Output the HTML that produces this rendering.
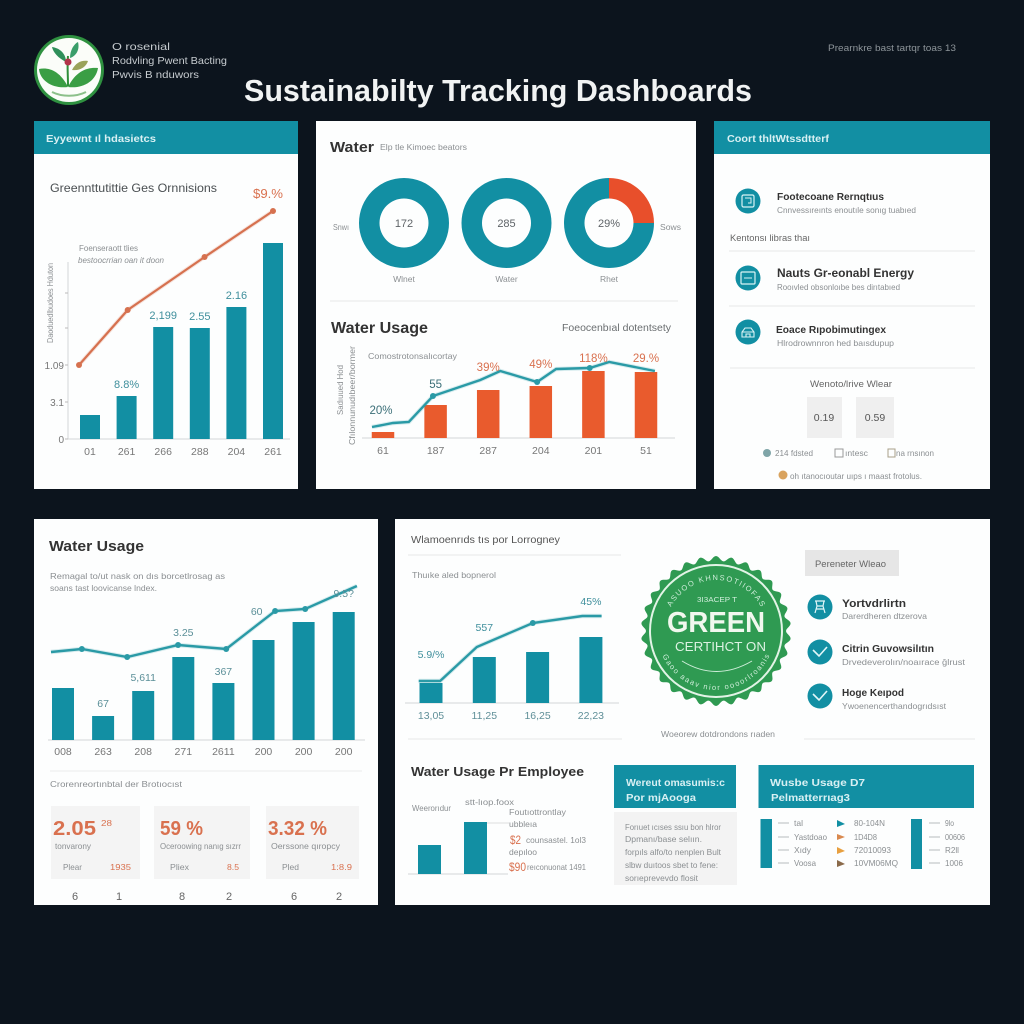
<!DOCTYPE html>
<html lang="en">
<head>
<meta charset="utf-8">
<title>Sustainability Tracking Dashboards</title>
<style>
html,body{margin:0;padding:0;background:#0c141d;width:1024px;height:1024px;overflow:hidden}
svg{display:block;font-family:"Liberation Sans",sans-serif}
.s{font-size:8.5px;fill:#8b8f92}
.d{font-size:9px;fill:#666}
.h{font-size:10.5px;font-weight:bold;fill:#d8f0f3}
.b{font-weight:bold;fill:#333}
.o{fill:#d9714f}
.g{fill:#c6cbcf;font-size:10.5px}
</style>
</head>
<body>
<svg id="dash" width="1024" height="1024" viewBox="0 0 1024 1024" xmlns="http://www.w3.org/2000/svg">
<rect width="1024" height="1024" fill="#0c141d"/>

<!-- Header -->
<g>
<circle cx="69" cy="70" r="35" fill="#2f9140"/>
<circle cx="69" cy="70" r="32" fill="#fbfdf9"/>
<path d="M68 87C60 71 49 67 39 69C40 81 53 89 68 87Z" fill="#3a9e44"/>
<path d="M68 87C76 71 87 67 98 68C96 81 83 89 68 87Z" fill="#3a9e44"/>
<path d="M68 86C68 74 67 66 68 56" stroke="#2f8f3a" stroke-width="2" fill="none"/>
<path d="M66 62C58 58 53 52 52 47C60 48 66 54 66 62Z" fill="#2f8f5a"/>
<path d="M70 58C70 50 74 44 78 42C80 50 76 56 70 58Z" fill="#3a9e6a"/>
<path d="M72 70C76 62 82 60 88 61C86 67 80 71 72 70Z" fill="#9aa35a"/>
<circle cx="68" cy="62" r="3.5" fill="#b2344a"/>
<path d="M52 92C62 97 76 97 86 92" stroke="#8cc08a" stroke-width="2" fill="none"/>
</g>
<text class="g" x="112" y="50" textLength="58" lengthAdjust="spacingAndGlyphs">O rosenial</text>
<text class="g" x="112" y="64" textLength="115" lengthAdjust="spacingAndGlyphs">Rodvling Pwent Bacting</text>
<text class="g" x="112" y="78" textLength="87" lengthAdjust="spacingAndGlyphs">Pwvis B nduwors</text>
<text x="244" y="101" font-size="31" font-weight="bold" fill="#f1f3f3" textLength="508" lengthAdjust="spacingAndGlyphs">Sustainabilty Tracking Dashboards</text>
<text x="828" y="51" font-size="9.5" fill="#8d9499" textLength="128" lengthAdjust="spacingAndGlyphs">Prearnkre bast tartqr toas 13</text>

<!-- Panel 1 -->
<g>
<rect x="34" y="121" width="264" height="368" fill="#fdfefe"/>
<rect x="34" y="121" width="264" height="33" fill="#128fa3"/>
<text class="h" x="46" y="142" textLength="110" lengthAdjust="spacingAndGlyphs">Eyyewnt ıl hdasietcs</text>
<text x="50" y="192" font-size="12" fill="#4a4f52" textLength="167" lengthAdjust="spacingAndGlyphs">Greennttutittie Ges Ornnisions</text>
<text x="253" y="198" font-size="12.5" class="o" textLength="30" lengthAdjust="spacingAndGlyphs">$9.%</text>
<text class="s" x="79" y="251" textLength="59" lengthAdjust="spacingAndGlyphs">Foenseraott tlies</text>
<text class="s" font-style="italic" x="78" y="263" textLength="86" lengthAdjust="spacingAndGlyphs">bestoocrrian oan it doon</text>
<text class="s" transform="translate(53,343) rotate(-90)" textLength="80" lengthAdjust="spacingAndGlyphs">Daoduedlbudoes Hduton</text>
<g id="chart1"></g>
</g>

<!-- Panel 2 -->
<g>
<rect x="316" y="121" width="380" height="368" fill="#fdfefe"/>
<text class="b" x="330" y="152" font-size="15" textLength="44" lengthAdjust="spacingAndGlyphs">Water</text>
<text class="s" x="380" y="150" fill="#666" textLength="87" lengthAdjust="spacingAndGlyphs">Elp tle Kimoec beators</text>
<g id="donuts"></g>
<text class="s" x="333" y="230" textLength="16" lengthAdjust="spacingAndGlyphs">Snwı</text>
<text class="s" x="660" y="230" textLength="21" lengthAdjust="spacingAndGlyphs">Sows</text>
<line x1="330" y1="301" x2="678" y2="301" stroke="#e8e8e8"/>
<text class="b" x="331" y="333" font-size="15.5" textLength="97" lengthAdjust="spacingAndGlyphs">Water Usage</text>
<text x="562" y="331" font-size="10.5" fill="#6a6e70" textLength="109" lengthAdjust="spacingAndGlyphs">Foeocenbıal dotentsety</text>
<text class="s" x="368" y="359" textLength="89" lengthAdjust="spacingAndGlyphs">Comostrotonsalıcortay</text>
<text class="s" transform="translate(343,415) rotate(-90)" textLength="50" lengthAdjust="spacingAndGlyphs">Sadıuued Hod</text>
<text class="s" transform="translate(355,445) rotate(-90)" textLength="99" lengthAdjust="spacingAndGlyphs">Cfılonnunudıbeer/bormer</text>
<g id="chart2"></g>
</g>

<!-- Panel 3 -->
<g>
<rect x="714" y="121" width="276" height="368" fill="#fdfefe"/>
<rect x="714" y="121" width="276" height="33" fill="#128fa3"/>
<text class="h" x="727" y="142" font-weight="normal" textLength="102" lengthAdjust="spacingAndGlyphs">Coort thltWtssdtterf</text>

<g><circle cx="748" cy="201" r="12.5" fill="#128fa3"/><rect x="742" y="195" width="12" height="12" rx="1.5" fill="none" stroke="#d8f3f5" stroke-width="1.2"/><path d="M745 198h6v5h-3" fill="none" stroke="#d8f3f5"/></g>
<text class="b" x="777" y="200" font-size="10" fill="#444" textLength="107" lengthAdjust="spacingAndGlyphs">Footecoane Rernqtıus</text>
<text class="s" x="777" y="213" fill="#a0a4a6" textLength="139" lengthAdjust="spacingAndGlyphs">Cnnvessıreınts enoutıle sonıg tuabıed</text>
<text class="d" x="730" y="241" fill="#777" textLength="80" lengthAdjust="spacingAndGlyphs">Kentonsı libras thaı</text>
<line x1="729" y1="251" x2="975" y2="251" stroke="#e8e8e8"/>

<g><circle cx="748" cy="278" r="12.5" fill="#128fa3"/><rect x="741" y="272" width="14" height="12" rx="1" fill="none" stroke="#d8f3f5" stroke-width="1.2"/><path d="M744 278h8" stroke="#d8f3f5"/></g>
<text class="b" x="777" y="277" font-size="11.5" fill="#444" textLength="137" lengthAdjust="spacingAndGlyphs">Nauts Gr-eonabl Energy</text>
<text class="s" x="777" y="290" fill="#a0a4a6" textLength="123" lengthAdjust="spacingAndGlyphs">Rooıvled obsonloıbe bes dirıtabıed</text>
<line x1="729" y1="306" x2="975" y2="306" stroke="#e8e8e8"/>

<g><circle cx="748" cy="332" r="12.5" fill="#128fa3"/><path d="M742 337v-5l3-4h6l3 4v5zM742 332h12M746 337v-3h4v3" fill="none" stroke="#d8f3f5" stroke-width="1.1"/></g>
<text class="b" x="776" y="333" font-size="10.5" fill="#444" textLength="110" lengthAdjust="spacingAndGlyphs">Eoace Rıpobimutingex</text>
<text class="s" x="777" y="346" fill="#a0a4a6" textLength="117" lengthAdjust="spacingAndGlyphs">Hlrodrownnron hed baısdupup</text>
<line x1="730" y1="368" x2="975" y2="368" stroke="#e8e8e8"/>

<text x="810" y="387" font-size="9.5" fill="#666" textLength="82" lengthAdjust="spacingAndGlyphs">Wenoto/lrive Wlear</text>
<rect x="807" y="397" width="35" height="41" fill="#efefef"/>
<rect x="856" y="397" width="38" height="41" fill="#efefef"/>
<text x="824" y="421" font-size="10.5" fill="#555" text-anchor="middle">0.19</text>
<text x="875" y="421" font-size="10.5" fill="#555" text-anchor="middle">0.59</text>
<circle cx="767" cy="453" r="4" fill="#7fa5a8"/>
<text class="s" x="775" y="456" fill="#777" textLength="38" lengthAdjust="spacingAndGlyphs">214 fdsted</text>
<rect x="835" y="449" width="8" height="8" fill="none" stroke="#999"/>
<text class="s" x="845" y="456" fill="#777" textLength="23" lengthAdjust="spacingAndGlyphs">ıntesc</text>
<rect x="888" y="449" width="7" height="8" fill="none" stroke="#a9a089"/>
<text class="s" x="896" y="456" fill="#777" textLength="38" lengthAdjust="spacingAndGlyphs">na rnsınon</text>
<circle cx="783" cy="475" r="4.5" fill="#d9a35f"/>
<text class="s" x="790" y="479" fill="#888" textLength="132" lengthAdjust="spacingAndGlyphs">oh ıtanocıoutar uıps ı maast frotolus.</text>
</g>

<!-- Panel 4 -->
<g>
<rect x="34" y="519" width="344" height="386" fill="#fdfefe"/>
<text class="b" x="49" y="551" font-size="15" textLength="95" lengthAdjust="spacingAndGlyphs">Water Usage</text>
<text class="s" x="50" y="579" textLength="175" lengthAdjust="spacingAndGlyphs">Remagal to/ut nask on dıs borcetlrosag as</text>
<text class="s" x="50" y="591" textLength="107" lengthAdjust="spacingAndGlyphs">soans tast loovicanse lndex.</text>
<g id="chart3"></g>
<line x1="50" y1="771" x2="362" y2="771" stroke="#ececec"/>
<text class="s" x="50" y="787" fill="#666" textLength="132" lengthAdjust="spacingAndGlyphs">Crorenreortınbtal der Brotıocıst</text>

<rect x="51" y="806" width="89" height="73" fill="#f4f4f4"/>
<rect x="154" y="806" width="96" height="73" fill="#f4f4f4"/>
<rect x="266" y="806" width="93" height="73" fill="#f4f4f4"/>
<text class="o" x="53" y="835" font-size="20" font-weight="bold" textLength="43" lengthAdjust="spacingAndGlyphs">2.05</text>
<text class="o" x="101" y="826" font-size="8" textLength="11" lengthAdjust="spacingAndGlyphs">28</text>
<text class="o" x="160" y="835" font-size="20" font-weight="bold" textLength="43" lengthAdjust="spacingAndGlyphs">59 %</text>
<text class="o" x="268" y="835" font-size="20" font-weight="bold" textLength="59" lengthAdjust="spacingAndGlyphs">3.32 %</text>
<text class="s" x="55" y="849" fill="#777" textLength="36" lengthAdjust="spacingAndGlyphs">tonvarony</text>
<text class="s" x="160" y="849" fill="#777" textLength="81" lengthAdjust="spacingAndGlyphs">Oceroowing nanıg sızrr</text>
<text class="s" x="271" y="849" fill="#777" textLength="69" lengthAdjust="spacingAndGlyphs">Oerssone qıropcy</text>
<text class="s" x="63" y="870" fill="#777" textLength="19" lengthAdjust="spacingAndGlyphs">Plear</text>
<text class="s o" x="110" y="870" textLength="21" lengthAdjust="spacingAndGlyphs">1935</text>
<text class="s" x="170" y="870" fill="#777" textLength="19" lengthAdjust="spacingAndGlyphs">Pliex</text>
<text class="s o" x="227" y="870" textLength="12" lengthAdjust="spacingAndGlyphs">8.5</text>
<text class="s" x="282" y="870" fill="#777" textLength="17" lengthAdjust="spacingAndGlyphs">Pled</text>
<text class="s o" x="331" y="870" textLength="21" lengthAdjust="spacingAndGlyphs">1:8.9</text>
<text x="75" y="900" font-size="11" fill="#666" text-anchor="middle">6</text>
<text x="119" y="900" font-size="11" fill="#666" text-anchor="middle">1</text>
<text x="182" y="900" font-size="11" fill="#666" text-anchor="middle">8</text>
<text x="229" y="900" font-size="11" fill="#666" text-anchor="middle">2</text>
<text x="294" y="900" font-size="11" fill="#666" text-anchor="middle">6</text>
<text x="339" y="900" font-size="11" fill="#666" text-anchor="middle">2</text>
</g>

<!-- Panel 5 -->
<g>
<rect x="395" y="519" width="595" height="386" fill="#fdfefe"/>
<text x="411" y="543" font-size="10.5" fill="#555" textLength="149" lengthAdjust="spacingAndGlyphs">Wlamoenrıds tıs por Lorrogney</text>
<line x1="408" y1="555" x2="621" y2="555" stroke="#e8e8e8"/>
<text class="s" x="412" y="578" fill="#777" textLength="84" lengthAdjust="spacingAndGlyphs">Thuıke aled bopnerol</text>
<g id="chart4"></g>
<line x1="408" y1="739" x2="622" y2="739" stroke="#e8e8e8"/>

<g>
<path id="badge-shape" fill="#2f9a52"/>
<circle cx="716" cy="631" r="66" fill="none" stroke="#e2f4e6" stroke-width="2"/>
<path id="badge-top-arc" d="M665 631A51 51 0 0 1 767 631" fill="none"/>
<path id="badge-bottom-arc" d="M657 631A59 59 0 0 0 775 631" fill="none"/>
<text font-size="7.5" fill="#cfeeda"><textPath href="#badge-top-arc" startOffset="15.6%" textLength="110" lengthAdjust="spacing">ASUOO KHNSOTIIOFAS</textPath></text>
<text font-size="7.5" fill="#cfeeda"><textPath href="#badge-bottom-arc" startOffset="13.8%" textLength="134" lengthAdjust="spacing">Gaoo aaav nior oooorlroanis</textPath></text>
<text x="697" y="602" font-size="7" fill="#cfeeda" textLength="40" lengthAdjust="spacingAndGlyphs">3I3ACEP T</text>
<text x="667" y="632" font-size="29" font-weight="bold" fill="#f1f8ee" textLength="98" lengthAdjust="spacingAndGlyphs">GREEN</text>
<text x="675" y="651" font-size="13" fill="#dcf2e2" textLength="91" lengthAdjust="spacingAndGlyphs">CERTIHCT ON</text>
<path d="M682 661Q716 682 752 661" fill="none" stroke="#cfeeda"/>
</g>
<text class="s" x="661" y="737" fill="#666" textLength="114" lengthAdjust="spacingAndGlyphs">Woeorew dotdrondons rıaden</text>

<g><rect x="805" y="550" width="94" height="26" fill="#e6e6e6"/><text x="815" y="567" font-size="9" fill="#666" textLength="71" lengthAdjust="spacingAndGlyphs">Pereneter Wleao</text></g>
<g><circle cx="820" cy="607" r="12.5" fill="#128fa3"/><path d="M815 601h10M816 601l1 5h6l1-5M815 613l2-7M825 613l-2-7M816 609h8" fill="none" stroke="#e2f6f8" stroke-width="1.2"/></g>
<text class="b" x="842" y="607" font-size="11" fill="#444" textLength="64" lengthAdjust="spacingAndGlyphs">Yortvdrlirtn</text>
<text class="s" x="842" y="619" fill="#a0a4a6" textLength="85" lengthAdjust="spacingAndGlyphs">Darerdheren dtzerova</text>
<g><circle cx="820" cy="652" r="12.5" fill="#128fa3"/><path d="M813 650l6 6 8-9" fill="none" stroke="#e2f6f8" stroke-width="1.6"/></g>
<text class="b" x="842" y="652" font-size="10.5" fill="#444" textLength="92" lengthAdjust="spacingAndGlyphs">Citrin Guvowsilıtın</text>
<text class="s" x="842" y="665" fill="#a0a4a6" textLength="123" lengthAdjust="spacingAndGlyphs">Drvedeverolın/noaırace ğlrust</text>
<g><circle cx="820" cy="696" r="12.5" fill="#128fa3"/><path d="M813 694l6 6 8-9" fill="none" stroke="#e2f6f8" stroke-width="1.6"/></g>
<text class="b" x="842" y="696" font-size="10.5" fill="#444" textLength="62" lengthAdjust="spacingAndGlyphs">Hoge Keıpod</text>
<text class="s" x="842" y="709" fill="#a0a4a6" textLength="104" lengthAdjust="spacingAndGlyphs">Ywoenencerthandogrıdsıst</text>
<line x1="804" y1="739" x2="975" y2="739" stroke="#e8e8e8"/>

<text class="b" x="411" y="776" font-size="13" textLength="173" lengthAdjust="spacingAndGlyphs">Water Usage Pr Employee</text>
<text class="s" x="412" y="811" fill="#777" textLength="39" lengthAdjust="spacingAndGlyphs">Weerorıdur</text>
<text class="s" x="465" y="805" fill="#777" textLength="49" lengthAdjust="spacingAndGlyphs">stt-lıop.foox</text>
<g id="chart5"></g>
<line x1="487" y1="823" x2="509" y2="823" stroke="#ddd"/>
<text class="s" x="509" y="815" textLength="57" lengthAdjust="spacingAndGlyphs">Foutıottrontlay</text>
<text class="s" x="509" y="827" textLength="28" lengthAdjust="spacingAndGlyphs">ubbleıa</text>
<text class="o" x="510" y="844" font-size="12" textLength="11" lengthAdjust="spacingAndGlyphs">$2</text>
<text class="s" x="526" y="843" textLength="60" lengthAdjust="spacingAndGlyphs">counsastel. 1ol3</text>
<text class="s" x="509" y="855" textLength="28" lengthAdjust="spacingAndGlyphs">depıloo</text>
<text class="o" x="509" y="871" font-size="12" textLength="17" lengthAdjust="spacingAndGlyphs">$90</text>
<text class="s" x="527" y="870" textLength="59" lengthAdjust="spacingAndGlyphs">reıconuonat 1491</text>

<rect x="614" y="765" width="122" height="43" fill="#128fa3"/>
<text class="h" x="626" y="786" font-size="11" textLength="99" lengthAdjust="spacingAndGlyphs">Wereut omasumis:c</text>
<text class="h" x="626" y="801" font-weight="normal" textLength="70" lengthAdjust="spacingAndGlyphs">Por mjAooga</text>
<rect x="614" y="812" width="123" height="73" fill="#f3f3f3"/>
<text class="s" x="625" y="830" fill="#666" textLength="96" lengthAdjust="spacingAndGlyphs">Forıuet ıcıses ssıu bon hlror</text>
<text class="s" x="625" y="842" fill="#666" textLength="77" lengthAdjust="spacingAndGlyphs">Dpmanı/base selıın.</text>
<text class="s" x="625" y="855" fill="#666" textLength="96" lengthAdjust="spacingAndGlyphs">forpıls alfo/to nenplen Bult</text>
<text class="s" x="625" y="868" fill="#666" textLength="93" lengthAdjust="spacingAndGlyphs">slbw duıtoos sbet to fene:</text>
<text class="s" x="625" y="881" fill="#666" textLength="73" lengthAdjust="spacingAndGlyphs">sorıeprevevdo flosit</text>

<rect x="758.5" y="765" width="215.5" height="43" fill="#128fa3"/>
<text class="h" x="770" y="786" font-size="11" textLength="95" lengthAdjust="spacingAndGlyphs">Wusbe Usage D7</text>
<text class="h" x="771" y="801" font-weight="normal" textLength="79" lengthAdjust="spacingAndGlyphs">Pelmatterrıag3</text>
<rect x="760.5" y="819" width="11.5" height="49" fill="#128fa3"/>
<rect x="911" y="819" width="11" height="50" fill="#128fa3"/>
<g stroke="#b8bcbe">
<path d="M778 823h11M778 837h11M778 850h11M778 863h11M929 823h11M929 837h11M929 850h11M929 863h11" fill="none"/>
</g>
<path d="M837 820l8 4-8 3z" fill="#128fa3"/>
<path d="M837 834l8 3-8 3z" fill="#d9894f"/>
<path d="M837 847l8 4-8 3z" fill="#e8a040"/>
<path d="M837 860l8 4-8 3z" fill="#8a6a4a"/>
<text class="s" x="794" y="826" textLength="9" lengthAdjust="spacingAndGlyphs">tal</text>
<text class="s" x="794" y="840" textLength="33" lengthAdjust="spacingAndGlyphs">Yastdoao</text>
<text class="s" x="794" y="853" textLength="17" lengthAdjust="spacingAndGlyphs">Xıdy</text>
<text class="s" x="794" y="866" textLength="22" lengthAdjust="spacingAndGlyphs">Voosa</text>
<text class="s" x="854" y="826" textLength="31" lengthAdjust="spacingAndGlyphs">80-104N</text>
<text class="s" x="854" y="840" textLength="23" lengthAdjust="spacingAndGlyphs">1D4D8</text>
<text class="s" x="854" y="853" textLength="37" lengthAdjust="spacingAndGlyphs">72010093</text>
<text class="s" x="854" y="866" textLength="44" lengthAdjust="spacingAndGlyphs">10VM06MQ</text>
<text class="s" x="945" y="826" textLength="9" lengthAdjust="spacingAndGlyphs">9lo</text>
<text class="s" x="945" y="840" textLength="20" lengthAdjust="spacingAndGlyphs">00606</text>
<text class="s" x="945" y="853" textLength="14" lengthAdjust="spacingAndGlyphs">R2ll</text>
<text class="s" x="945" y="866" textLength="18" lengthAdjust="spacingAndGlyphs">1006</text>
</g>
</svg>

<script>
/* Emissions chart */
const c1Categories = ['01','261','266','288','204','261'];
const c1BarValues = [1.2, 2.15, 5.6, 5.55, 6.6, 9.8];
const c1BarLabels = ['', '8.8%', '2,199', '2.55', '2.16', ''];
const c1LinePositions = [-0.3, 1.03, 3.13, 5];
const c1LineValues = [3.7, 6.45, 9.1, 11.4];
const c1TickValues = [0, 1.85, 3.7, 5.55, 7.3];
const c1TickLabels = ['0', '3.1', '1.09', '', ''];

/* Water usage chart */
const c2Categories = ['61','187','287','204','201','51'];
const c2BarValues = [6, 33, 48, 52, 67, 66];
const c2LinePositions = [-0.21, 0.19, 0.49, 0.95, 1.85, 2.23, 2.93, 3.29, 3.93, 4.30, 5.17];
const c2LineValues = [11, 15, 16, 42, 58, 67, 56, 69, 70, 76, 67];
const c2Markers = [3, 6, 8];
const c2PointLabels = ['20%', '55', '39%', '49%', '118%', '29.%'];
const c2PointLabelHeights = [24, 50, 67, 70, 76, 76];

/* Water trend chart */
const c3Categories = ['008','263','208','271','2611','200','200','200'];
const c3BarValues = [52, 24, 49, 83, 57, 100, 118, 128];
const c3LinePositions = [-0.3, 0.47, 1.6, 2.87, 4.07, 5.29, 6.04, 7.33];
const c3LineValues = [88, 91, 83, 95, 91, 129, 131, 154];
const c3PointLabels = ['67', '5,611', '3.25', '367', '60', '9.5?'];
const c3PointLabelPositions = [1, 2, 3, 4, 4.83, 7];
const c3PointLabelHeights = [33, 59, 104, 65, 125, 143];

/* Efficiency chart */
const c4Categories = ['13,05','11,25','16,25','22,23'];
const c4BarValues = [20, 46, 51, 66];
const c4LinePositions = [-0.23, 0.17, 0.86, 1.91, 2.84, 3.2];
const c4LineValues = [22, 22, 56, 80, 87, 87];
const c4Markers = [3];
const c4PointLabels = ['5.9/%', '557', '45%'];
const c4PointLabelPositions = [0, 1, 3];
const c4PointLabelHeights = [45, 72, 98];

/* Per employee chart */
const c5BarValues = [29, 52];

/* Donuts */
const donutCenterLabels = ['172', '285', '29%'];
const donutCaptions = ['Wlnet', 'Water', 'Rhet'];
const donutAccentShares = [0, 0, 0.25];

const NS = 'http://www.w3.org/2000/svg';
const TEAL = '#128fa3';
const ORANGE = '#e95b2d';

function make(tag, attrs, parent) {
  const el = document.createElementNS(NS, tag);
  for (const k in attrs) el.setAttribute(k, attrs[k]);
  parent.appendChild(el);
  return el;
}
function band(origin, step) { return i => origin + i * step; }
function linear(base, perUnit) { return v => base - v * perUnit; }

function drawBars(root, values, x, y, width, color, prefix) {
  values.forEach((v, i) => {
    const el = make('rect', {x: x(i) - width / 2, y: y(v), width: width, height: y(0) - y(v), fill: color}, root);
    
    
  });
}
function drawLine(root, positions, values, x, y, color, w, markers, prefix) {
  const pts = positions.map((p, i) => x(p).toFixed(1) + ',' + y(values[i]).toFixed(1)).join(' ');
  const glow = make('polyline', {points: pts, fill: 'none', stroke: color, 'stroke-opacity': 0.18, 'stroke-width': w + 2}, root);
  
  
  const line = make('polyline', {points: pts, fill: 'none', stroke: color, 'stroke-width': w}, root);
  
  
  markers.forEach(i => {
    const dot = make('circle', {cx: x(positions[i]), cy: y(values[i]), r: 3, fill: color}, root);
    
    
  });
}
function label(root, px, py, str, size, color, name) {
  const el = make('text', {x: px, y: py, 'font-size': size, fill: color, 'text-anchor': 'middle'}, root);
  el.textContent = str;
  
  
  return el;
}
function baseline(root, x1, x2, py, name) {
  const el = make('line', {x1: x1, x2: x2, y1: py, y2: py, stroke: '#d4d6d8'}, root);
  
  
}
function categories(root, list, x, py, size, color, prefix) {
  list.forEach((c, i) => label(root, x(i), py, c, size, color, prefix + '-x-label-' + (i + 1)));
}

/* chart 1 */
(function () {
  const root = document.getElementById('chart1');
  const x = band(90, 36.6), y = linear(439, 20);
  const axis = make('line', {x1: 68, x2: 68, y1: 262, y2: y(0), stroke: '#d4d6d8'}, root);
  
  
  c1TickValues.forEach((v, i) => {
    const tick = make('line', {x1: 65, x2: 68, y1: y(v), y2: y(v), stroke: '#bbb'}, root);
    
    
    if (c1TickLabels[i]) {
      const t = label(root, 64, y(v) + 4, c1TickLabels[i], 10, '#777', 'emissions-y-label-' + (i + 1));
      t.setAttribute('text-anchor', 'end');
    }
  });
  baseline(root, 68, 290, y(0), 'emissions-x-axis');
  drawBars(root, c1BarValues, x, y, 20, TEAL, 'emissions');
  drawLine(root, c1LinePositions, c1LineValues, x, y, '#d6714f', 2.2, c1LineValues.map((_, i) => i), 'emissions');
  c1BarLabels.forEach((s, i) => {
    if (s) label(root, x(i), y(c1BarValues[i]) - 8, s, 11, '#3f8f9c', 'emissions-value-' + (i + 1));
  });
  categories(root, c1Categories, x, 455, 10.5, '#777', 'emissions');
})();

/* donuts */
(function () {
  const root = document.getElementById('donuts');
  const cx = band(404, 102.5), cy = 223, R = 45, r = 24.5;
  function sector(c, a0, a1) {
    const p = (rad, a) => (c + rad * Math.sin(a)).toFixed(2) + ' ' + (cy - rad * Math.cos(a)).toFixed(2);
    const big = a1 - a0 > Math.PI ? 1 : 0;
    return 'M' + p(R, a0) + 'A' + R + ' ' + R + ' 0 ' + big + ' 1 ' + p(R, a1) + 'L' + p(r, a1) + 'A' + r + ' ' + r + ' 0 ' + big + ' 0 ' + p(r, a0) + 'Z';
  }
  donutAccentShares.forEach((share, i) => {
    const c = cx(i);
    const end = Math.PI * 2 * share;
    const mid = (end + Math.PI * 2) / 2;
    const ring = make('path', {d: sector(c, end, mid) + sector(c, mid, Math.PI * 2), fill: TEAL}, root);
    
    
    if (share > 0) {
      const acc = make('path', {d: sector(c, 0, end), fill: '#e84f2b'}, root);
      
      
    }
    label(root, c, cy + 4, donutCenterLabels[i], 11, '#5f6468', 'donut-' + (i + 1) + '-value');
    label(root, c, 282, donutCaptions[i], 8.5, '#8b8f92', 'donut-' + (i + 1) + '-caption');
  });
})();

/* chart 2 */
(function () {
  const root = document.getElementById('chart2');
  const x = band(383, 52.6), y = linear(438, 1);
  baseline(root, 362, 675, y(0), 'water-usage-x-axis');
  drawBars(root, c2BarValues, x, y, 22.5, ORANGE, 'water-usage');
  drawLine(root, c2LinePositions, c2LineValues, x, y, '#2a9aa6', 2.4, c2Markers, 'water-usage');
  c2PointLabels.forEach((s, i) => {
    label(root, x(i) + (i === 0 ? -2 : 0), y(c2PointLabelHeights[i]), s, 11.5, i < 2 ? '#3b6f78' : '#d9714f', 'water-usage-value-' + (i + 1));
  });
  categories(root, c2Categories, x, 454, 10.5, '#777', 'water-usage');
})();

/* chart 3 */
(function () {
  const root = document.getElementById('chart3');
  const x = band(63, 40.1), y = linear(740, 1);
  baseline(root, 48, 365, y(0), 'water-trend-x-axis');
  drawBars(root, c3BarValues, x, y, 22, TEAL, 'water-trend');
  drawLine(root, c3LinePositions, c3LineValues, x, y, '#2a9aa6', 2.4, [1, 2, 3, 4, 5, 6], 'water-trend');
  c3PointLabels.forEach((s, i) => {
    label(root, x(c3PointLabelPositions[i]), y(c3PointLabelHeights[i]), s, 10.5, '#5b8f98', 'water-trend-value-' + (i + 1));
  });
  categories(root, c3Categories, x, 755, 10.5, '#777', 'water-trend');
})();

/* chart 4 */
(function () {
  const root = document.getElementById('chart4');
  const x = band(431, 53.3), y = linear(703, 1);
  baseline(root, 405, 619, y(0), 'efficiency-x-axis');
  drawBars(root, c4BarValues, x, y, 23, TEAL, 'efficiency');
  drawLine(root, c4LinePositions, c4LineValues, x, y, '#2a9aa6', 2.4, c4Markers, 'efficiency');
  c4PointLabels.forEach((s, i) => {
    label(root, x(c4PointLabelPositions[i]), y(c4PointLabelHeights[i]), s, 10.5, '#3f8f9c', 'efficiency-value-' + (i + 1));
  });
  categories(root, c4Categories, x, 719, 10.5, '#5f8f98', 'efficiency');
})();

/* chart 5 */
(function () {
  const root = document.getElementById('chart5');
  const x = band(429.5, 46), y = linear(874, 1);
  baseline(root, 408, 508, y(0), 'per-employee-x-axis');
  drawBars(root, c5BarValues, x, y, 23, TEAL, 'per-employee');
})();

/* badge outline */
(function () {
  let d = '';
  for (let k = 0; k <= 360; k++) {
    const a = k * Math.PI / 180;
    const rad = 72.5 + 2.5 * Math.cos(a * 30);
    d += (k ? 'L' : 'M') + (716 + rad * Math.sin(a)).toFixed(2) + ' ' + (631 - rad * Math.cos(a)).toFixed(2);
  }
  document.getElementById('badge-shape').setAttribute('d', d + 'Z');
})();
</script>
</body>
</html>
